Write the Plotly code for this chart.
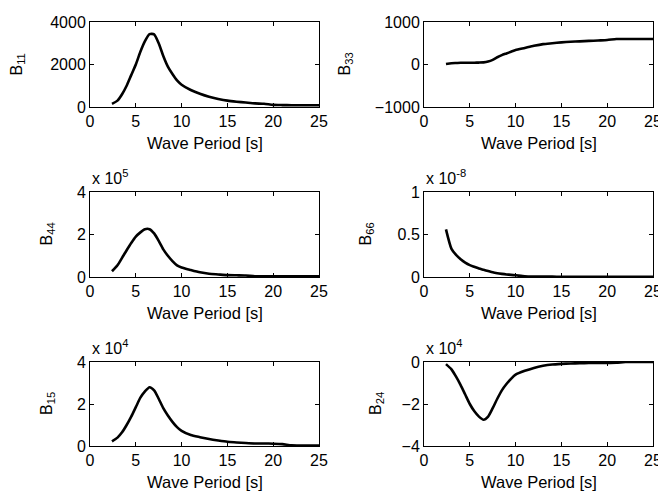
import plotly.graph_objects as go

# Wave period [s]
T = [2.4, 3, 3.5, 4, 4.5, 5, 5.5, 6, 6.5, 7, 7.5, 8, 8.5, 9, 9.5, 10,
     11, 12, 13, 14, 15, 16, 17, 18, 19, 20, 21, 22, 23, 24, 25]

B11 = [150, 300, 600, 1000, 1500, 2000, 2600, 3100, 3430, 3420, 3000, 2400, 1900, 1550, 1250, 1050,
       800, 620, 480, 380, 300, 250, 210, 170, 150, 100, 90, 85, 80, 80, 80]
B33 = [10, 30, 35, 40, 40, 40, 42, 45, 50, 70, 110, 170, 220, 260, 300, 340,
       390, 440, 480, 500, 520, 535, 545, 555, 565, 575, 600, 600, 600, 600, 600]
B44 = [0.27, 0.55, 0.9, 1.26, 1.6, 1.9, 2.1, 2.25, 2.25, 2.05, 1.7, 1.3, 1.0, 0.75, 0.55, 0.45,
       0.33, 0.22, 0.15, 0.12, 0.09, 0.08, 0.07, 0.03, 0.03, 0.03, 0.03, 0.03, 0.03, 0.03, 0.03]   # x 1e5
B66 = [0.56, 0.33, 0.26, 0.21, 0.17, 0.14, 0.12, 0.10, 0.085, 0.07, 0.055, 0.045, 0.037, 0.03, 0.025, 0.02,
       0.008, 0.005, 0.004, 0.004, 0.003, 0.003, 0.003, 0.003, 0.003, 0.003, 0.003, 0.003, 0.003, 0.003, 0.003]  # x 1e-8
B15 = [0.22, 0.4, 0.65, 1.0, 1.4, 1.85, 2.3, 2.6, 2.8, 2.65, 2.25, 1.8, 1.45, 1.15, 0.9, 0.72,
       0.52, 0.42, 0.33, 0.26, 0.2, 0.17, 0.14, 0.12, 0.12, 0.11, 0.09, 0.03, 0.02, 0.02, 0.02]   # x 1e4
B24 = [-0.1, -0.35, -0.7, -1.1, -1.55, -2.0, -2.35, -2.6, -2.75, -2.6, -2.2, -1.75, -1.35, -1.05, -0.8, -0.6,
       -0.42, -0.28, -0.18, -0.12, -0.09, -0.07, -0.06, -0.05, -0.045, -0.04, -0.03, 0, 0, 0, 0]   # x 1e4

series = [B11, B33, B44, B66, B15, B24]
labels = ["B<sub>11</sub>", "B<sub>33</sub>", "B<sub>44</sub>", "B<sub>66</sub>", "B<sub>15</sub>", "B<sub>24</sub>"]
exponents = ["", "", "x 10<sup>5</sup>", "x 10<sup>-8</sup>", "x 10<sup>4</sup>", "x 10<sup>4</sup>"]
y_ranges = [[0, 4000], [-1000, 1000], [0, 4], [0, 1], [0, 4], [-4, 0]]
y_ticks = [[0, 2000, 4000], [-1000, 0, 1000], [0, 2, 4], [0, 0.5, 1], [0, 2, 4], [-4, -2, 0]]
x_ticks = [0, 5, 10, 15, 20, 25]

W, H = 658, 493
FONT = "Liberation Sans, Arial, Helvetica, sans-serif"
FS = 16

col_px = [(90, 319), (424, 653)]
row_px = [(22, 107), (192, 277), (362, 446)]
ylab_x = [17, 345, 47, 366, 47, 376]

fig = go.Figure()
annotations = []
for i, ys in enumerate(series):
    r, c = divmod(i, 2)
    n = "" if i == 0 else str(i + 1)
    x0, x1 = col_px[c]
    yt, yb = row_px[r]
    fig.add_trace(go.Scatter(x=T, y=ys, mode="lines", line=dict(color="black", width=2.6, shape="spline", smoothing=0.6),
                             xaxis="x" + n, yaxis="y" + n, showlegend=False, hoverinfo="skip"))
    axcommon = dict(showgrid=False, zeroline=False, showline=True, linecolor="black", linewidth=1,
                    mirror="ticks", ticks="inside", ticklen=4, tickcolor="black", automargin=False,
                    ticklabeloverflow="allow",
                    tickfont=dict(family=FONT, size=FS, color="black"))
    fig.update_layout(**{
        "xaxis" + n: dict(domain=[x0 / W, x1 / W], range=[0, 25], tickvals=x_ticks,
                          anchor="y" + n, **axcommon),
        "yaxis" + n: dict(domain=[1 - yb / H, 1 - yt / H], range=y_ranges[i], tickvals=y_ticks[i],
                          anchor="x" + n, **axcommon),
    })
    annotations.append(dict(text="Wave Period [s]", x=(x0 + x1) / 2 / W, y=1 - (yb + 36) / H,
                            xref="paper", yref="paper", showarrow=False,
                            xanchor="center", yanchor="middle",
                            font=dict(family=FONT, size=16.5, color="black")))
    annotations.append(dict(text=labels[i], x=ylab_x[i] / W, y=1 - (yt + yb) / 2 / H,
                            xref="paper", yref="paper", showarrow=False, textangle=-90,
                            xanchor="center", yanchor="middle",
                            font=dict(family=FONT, size=FS, color="black")))
    if exponents[i]:
        annotations.append(dict(text=exponents[i], x=x0 / W, y=1 - (yt - 3) / H,
                                xref="paper", yref="paper", showarrow=False,
                                xanchor="left", yanchor="bottom",
                                font=dict(family=FONT, size=FS, color="black")))

fig.update_layout(template="none", width=W, height=H, margin=dict(l=0, r=0, t=0, b=0),
                  plot_bgcolor="white", paper_bgcolor="white", annotations=annotations,
                  showlegend=False)
fig.write_html("out.html")
